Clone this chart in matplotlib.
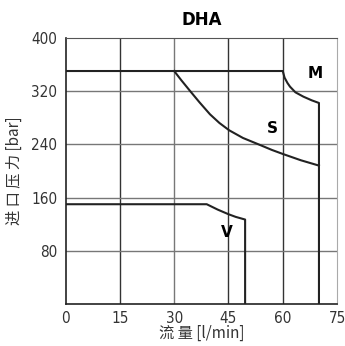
import matplotlib
matplotlib.use('Agg')
import matplotlib.pyplot as plt

# data
m_flow = [0, 60, 60.5, 61.3, 62, 63.5, 65.7, 68, 70, 70]
m_press = [350, 350, 340, 332, 326.5, 318, 311.5, 306, 302, 0]

s_flow = [30, 32, 34.4, 37, 39.9, 42.5, 45.2, 49, 53.7, 57, 60, 65, 70]
s_press = [350, 336, 320, 303, 285, 272, 261, 249.5, 239, 231.5, 225.5, 216, 208]

v_flow = [0, 39, 40.5, 42, 43.5, 45, 47, 49.6, 49.6]
v_press = [150, 150, 146, 142, 138.5, 135, 131, 127, 0]

x_ticks = [0, 15, 30, 45, 60, 75]
y_ticks = [80, 160, 240, 320, 400]

cjk = ['Noto Sans CJK SC', 'DejaVu Sans']

fig = plt.figure(figsize=(3.45, 3.46), dpi=100)
ax = fig.add_axes([0.190, 0.121, 0.787, 0.770])

ax.set_xlim(0, 75)
ax.set_ylim(0, 400)

# grid
for x in x_ticks[1:-1]:
    ax.axvline(x, color='#333333' if x != 30 else '#777777', lw=1.0, zorder=1)
for y in y_ticks[:-1]:
    ax.axhline(y, color='#777777', lw=1.0, zorder=1)

ax.plot(m_flow, m_press, color='#222222', lw=1.5, zorder=3)
ax.plot(s_flow, s_press, color='#222222', lw=1.5, zorder=3)
ax.plot(v_flow, v_press, color='#222222', lw=1.5, zorder=3)

ax.text(69, 347, 'M', fontsize=11, fontweight='bold', ha='center', va='center')
ax.text(57, 264, 'S', fontsize=11, fontweight='bold', ha='center', va='center')
ax.text(44.6, 108, 'V', fontsize=11, fontweight='bold', ha='center', va='center')

for side in ['left', 'bottom']:
    ax.spines[side].set_color('#222222')
    ax.spines[side].set_linewidth(1.2)
ax.spines['top'].set_color('#555555')
ax.spines['right'].set_color('#aaaaaa')

ax.set_xticks(x_ticks)
ax.set_yticks(y_ticks)
ax.tick_params(length=0, pad=6, labelsize=11, labelcolor='#333333')
ax.tick_params(axis='x', pad=5)
for lab in ax.get_xticklabels() + ax.get_yticklabels():
    lab.set_fontweight('light')
    lab.set_fontstretch('condensed')

ax.set_title('DHA', fontsize=12, fontweight='bold', pad=9)
ax.set_xlabel('流 量 [l/min]', family=cjk, fontsize=11, color='#333333', labelpad=-1)
ax.set_ylabel('进 口 压 力 [bar]', family=cjk, fontsize=11, color='#333333', labelpad=6)

fig.savefig('out.png', dpi=100)
